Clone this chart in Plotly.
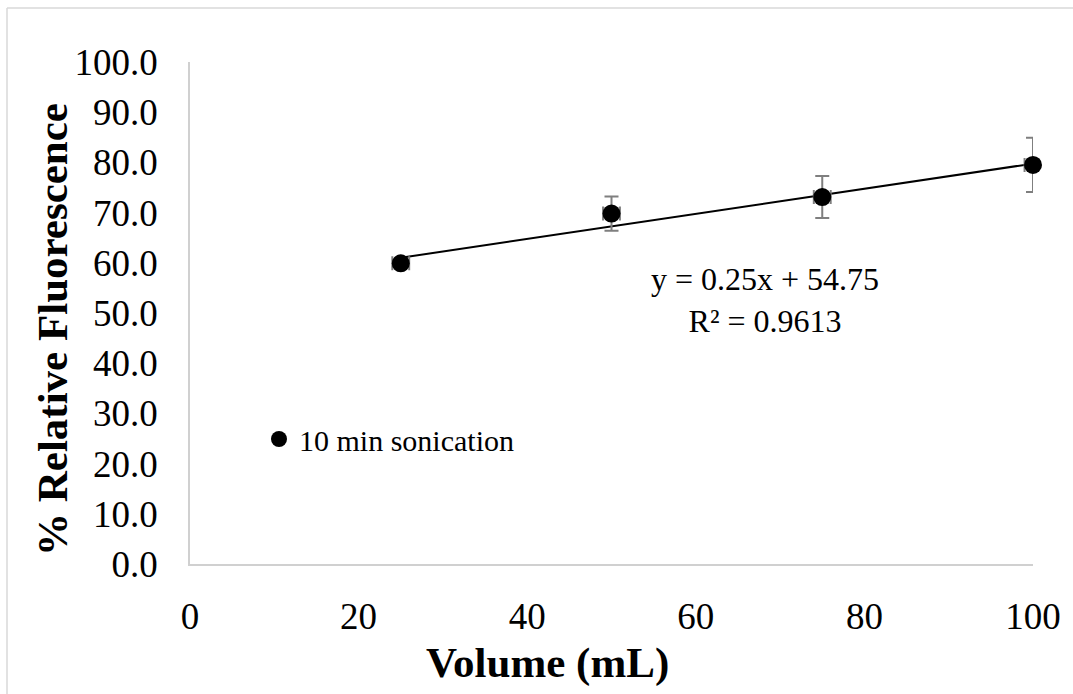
import plotly.graph_objects as go

# Measured fluorescence versus sample volume
volume_ml = [25, 50, 75, 100]
rel_fluorescence = [59.9, 69.8, 73.1, 79.5]
fluor_err = [0.8, 3.4, 4.2, 5.4]
volume_err = [1, 1, 1, 1]

# Linear trendline as reported
slope = 0.25
intercept = 54.75
r_squared = 0.9613

y_ticks = [0, 10, 20, 30, 40, 50, 60, 70, 80, 90, 100]
x_ticks = [0, 20, 40, 60, 80, 100]

FONT = "Liberation Serif"

W, H = 1073, 694
ML, MR, MT, MB = 190, 40, 62, 130
PW, PH = W - ML - MR, H - MT - MB


def px_to_paper(px, py):
    """Convert page pixel position to paper coordinates."""
    return (px - ML) / PW, (H - MB - py) / PH


fig = go.Figure()

trend_x = [min(volume_ml), max(volume_ml)]
trend_y = [slope * x + intercept for x in trend_x]
fig.add_trace(go.Scatter(
    x=trend_x, y=trend_y, mode="lines",
    line=dict(color="black", width=2),
    showlegend=False, hoverinfo="skip", cliponaxis=False,
))

fig.add_trace(go.Scatter(
    x=volume_ml, y=rel_fluorescence, mode="markers",
    name="10 min sonication", cliponaxis=False,
    marker=dict(color="black", size=18, symbol="circle"),
    error_y=dict(type="data", array=fluor_err, color="#7f7f7f",
                 thickness=2, width=7),
    error_x=dict(type="data", array=volume_err, color="#7f7f7f",
                 thickness=2, width=7),
))

ex, ey = px_to_paper(765, 300)
fig.add_annotation(
    x=ex, y=ey, xref="paper", yref="paper",
    xanchor="center", yanchor="middle",
    text=f"y = {slope}x + {intercept}<br>R² = {r_squared}",
    showarrow=False, align="center",
    font=dict(family=FONT, size=32, color="black"),
)

# Axis titles
tx, ty = px_to_paper(547, 663)
fig.add_annotation(
    x=tx, y=ty, xref="paper", yref="paper",
    xanchor="center", yanchor="middle", showarrow=False,
    text="<b>Volume (mL)</b>",
    font=dict(family=FONT, size=43, color="black"),
)
vx, vy = px_to_paper(52, 330)
fig.add_annotation(
    x=vx, y=vy, xref="paper", yref="paper",
    xanchor="center", yanchor="middle", showarrow=False,
    textangle=-90,
    text="<b>% Relative Fluorescence</b>",
    font=dict(family=FONT, size=43, color="black"),
)

# Outer frame edges (top and left) of the chart area
frame = dict(color="#d9d9d9", width=1.5)
fx0, fy1 = px_to_paper(7, 8)
fig.add_shape(type="line", xref="paper", yref="paper",
              x0=fx0, y0=fy1, x1=1.1, y1=fy1, line=frame)
fig.add_shape(type="line", xref="paper", yref="paper",
              x0=fx0, y0=-0.4, x1=fx0, y1=fy1, line=frame)

lx, ly = px_to_paper(259, 439)
fig.update_layout(
    width=W, height=H,
    margin=dict(l=ML, r=MR, t=MT, b=MB),
    paper_bgcolor="white", plot_bgcolor="white",
    font=dict(family=FONT, color="black"),
    showlegend=True,
    legend=dict(x=lx, y=ly, xanchor="left", yanchor="middle",
                bgcolor="rgba(0,0,0,0)",
                font=dict(family=FONT, size=30, color="black")),
    xaxis=dict(
        range=[0, 100], tickvals=x_ticks,
        showgrid=False, zeroline=False,
        showline=True, linecolor="#d0d0d0", linewidth=1.5,
        ticks="outside", ticklen=0, ticklabelstandoff=19,
        tickfont=dict(family=FONT, size=37, color="black"),
    ),
    yaxis=dict(
        range=[0, 100], tickvals=y_ticks, tickformat=".1f",
        showgrid=False, zeroline=False,
        showline=True, linecolor="#d0d0d0", linewidth=1.5,
        ticks="outside", ticklen=0, ticklabelstandoff=23,
        tickfont=dict(family=FONT, size=37, color="black"),
    ),
)

fig.write_html("out.html")
